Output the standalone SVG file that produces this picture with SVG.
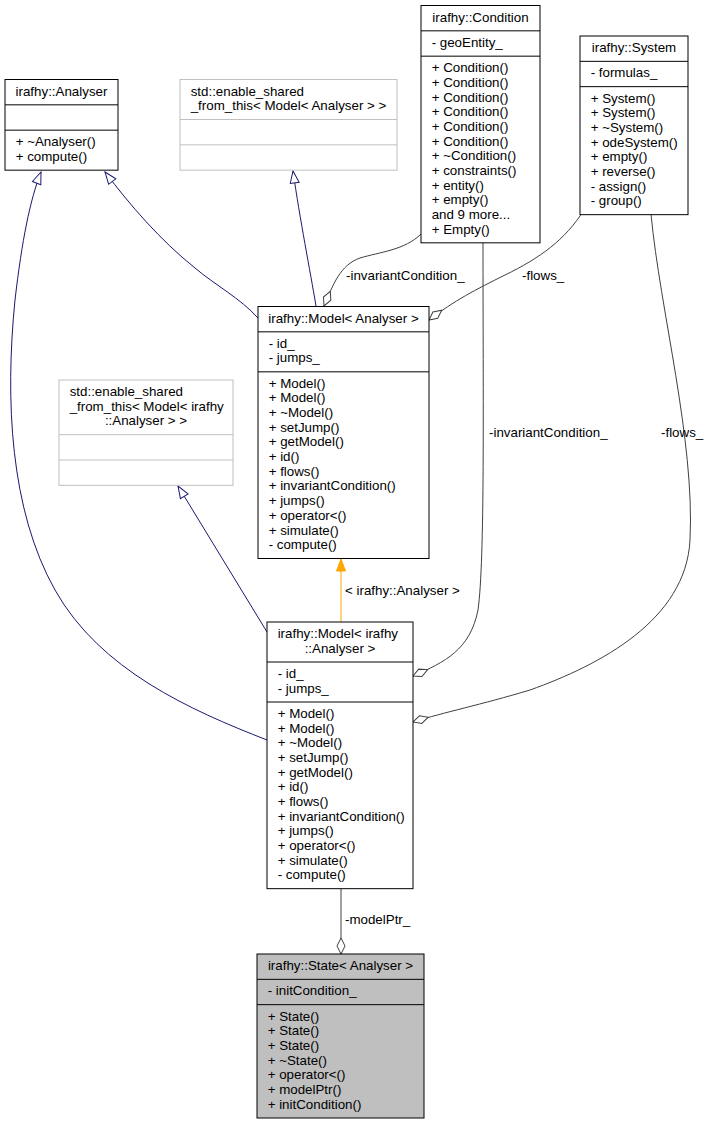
<svg xmlns="http://www.w3.org/2000/svg" width="710" height="1124" viewBox="0 0 710 1124">
<style>
  .bg{fill:#ffffff}
  .box{fill:#ffffff;stroke:#000000;stroke-width:1}
  .gbox{fill:#ffffff;stroke:#bfbfbf;stroke-width:1}
  .sbox{fill:#bfbfbf;stroke:#000000;stroke-width:1}
  .sep{stroke:#000000;stroke-width:1}
  .gsep{stroke:#bfbfbf;stroke-width:1}
  text{font-family:"Liberation Sans",Arial,Helvetica,sans-serif;font-size:13.33px;fill:#000000}
  .c{text-anchor:middle}
  .inh{fill:none;stroke:#191970;stroke-width:1;marker-end:url(#tri)}
  .agg{fill:none;stroke:#404040;stroke-width:1;marker-end:url(#dia)}
  .tpl{fill:none;stroke:#ffa500;stroke-width:1;marker-end:url(#otri)}
</style>
<defs>
  <marker id="tri" viewBox="0 0 14 11" refX="13" refY="5.5" markerWidth="14" markerHeight="11" orient="auto" markerUnits="userSpaceOnUse">
    <path d="M1,1 L13,5.5 L1,10 Z" fill="#ffffff" stroke="#191970"/>
  </marker>
  <marker id="otri" viewBox="0 0 14 11" refX="13" refY="5.5" markerWidth="14" markerHeight="11" orient="auto" markerUnits="userSpaceOnUse">
    <path d="M1,1 L13,5.5 L1,10 Z" fill="#ffa500" stroke="#ffa500"/>
  </marker>
  <marker id="dia" viewBox="0 0 18 10" refX="17" refY="5" markerWidth="18" markerHeight="10" orient="auto" markerUnits="userSpaceOnUse">
    <path d="M1,5 L9,1 L17,5 L9,9 Z" fill="#ffffff" stroke="#404040"/>
  </marker>
</defs>
<rect class="bg" x="0" y="0" width="710" height="1124"/>

<g id="connectors">
  <path class="inh" d="M258,318 C240,298 215,285 195,268 C160,240 130,205 105,172"/>
  <path class="inh" d="M267,740 C190,710 100,670 55,590 C10,510 5,400 15,300 C22,240 30,200 41,172"/>
  <path class="inh" d="M316,306 C310,270 300,220 293,171"/>
  <path class="inh" d="M267,632 L178,486"/>
  <path class="tpl" d="M341,622 L341,559"/>
  <text x="345" y="595">&lt; irafhy::Analyser &gt;</text>
  <path class="agg" d="M421,234 C405,250 380,252 360,258 C340,265 333,285 324,306"/>
  <text x="346" y="280">-invariantCondition_</text>
  <path class="agg" d="M584,210 C565,240 540,258 505,275 C475,290 455,300 429,320"/>
  <text x="522" y="280">-flows_</text>
  <path class="agg" d="M483,243 C483,400 485,560 478,610 C470,650 445,662 413,676"/>
  <text x="489" y="437">-invariantCondition_</text>
  <path class="agg" d="M651,214 C660,310 695,440 690,540 C686,620 600,665 530,690 C480,705 445,712 413,722"/>
  <text x="661" y="437">-flows_</text>
  <path class="agg" d="M341,889 L341,954"/>
  <text x="345" y="924">-modelPtr_</text>
</g>

<g id="node_analyser">
  <rect class="box" x="5" y="79.5" width="113" height="90.67"/>
  <line class="sep" x1="5" y1="104.83" x2="118" y2="104.83"/>
  <line class="sep" x1="5" y1="130.17" x2="118" y2="130.17"/>
  <text class="c" x="61.5" y="95.5">irafhy::Analyser</text>
  <text x="15.67" y="146.17">+ ~Analyser()<tspan x="15.67" dy="14.667">+ compute()</tspan></text>
</g>

<g id="node_enable_shared_model_analyser">
  <rect class="gbox" x="180" y="79.5" width="217" height="90.67"/>
  <line class="gsep" x1="180" y1="119.5" x2="397" y2="119.5"/>
  <line class="gsep" x1="180" y1="144.83" x2="397" y2="144.83"/>
  <text x="190.67" y="95.5">std::enable_shared</text>
  <text class="c" x="288.5" y="110.17">_from_this&lt; Model&lt; Analyser &gt; &gt;</text>
</g>

<g id="node_condition">
  <rect class="box" x="421" y="5.5" width="119" height="237.33"/>
  <line class="sep" x1="421" y1="30.83" x2="540" y2="30.83"/>
  <line class="sep" x1="421" y1="56.17" x2="540" y2="56.17"/>
  <text class="c" x="480.5" y="21.5">irafhy::Condition</text>
  <text x="431.67" y="46.83">- geoEntity_</text>
  <text x="431.67" y="72.17">+ Condition()<tspan x="431.67" dy="14.667">+ Condition()</tspan><tspan x="431.67" dy="14.667">+ Condition()</tspan><tspan x="431.67" dy="14.667">+ Condition()</tspan><tspan x="431.67" dy="14.667">+ Condition()</tspan><tspan x="431.67" dy="14.667">+ Condition()</tspan><tspan x="431.67" dy="14.667">+ ~Condition()</tspan><tspan x="431.67" dy="14.667">+ constraints()</tspan><tspan x="431.67" dy="14.667">+ entity()</tspan><tspan x="431.67" dy="14.667">+ empty()</tspan><tspan x="431.67" dy="14.667">and 9 more...</tspan><tspan x="431.67" dy="14.667">+ Empty()</tspan></text>
</g>

<g id="node_system">
  <rect class="box" x="580" y="36" width="108" height="178.67"/>
  <line class="sep" x1="580" y1="61.33" x2="688" y2="61.33"/>
  <line class="sep" x1="580" y1="86.67" x2="688" y2="86.67"/>
  <text class="c" x="634" y="52">irafhy::System</text>
  <text x="590.67" y="77.33">- formulas_</text>
  <text x="590.67" y="102.67">+ System()<tspan x="590.67" dy="14.667">+ System()</tspan><tspan x="590.67" dy="14.667">+ ~System()</tspan><tspan x="590.67" dy="14.667">+ odeSystem()</tspan><tspan x="590.67" dy="14.667">+ empty()</tspan><tspan x="590.67" dy="14.667">+ reverse()</tspan><tspan x="590.67" dy="14.667">- assign()</tspan><tspan x="590.67" dy="14.667">- group()</tspan></text>
</g>

<g id="node_model_analyser">
  <rect class="box" x="258" y="306.5" width="171" height="252"/>
  <line class="sep" x1="258" y1="331.83" x2="429" y2="331.83"/>
  <line class="sep" x1="258" y1="371.83" x2="429" y2="371.83"/>
  <text class="c" x="343.5" y="322.5">irafhy::Model&lt; Analyser &gt;</text>
  <text x="268.67" y="347.83">- id_<tspan x="268.67" dy="14.667">- jumps_</tspan></text>
  <text x="268.67" y="387.83">+ Model()<tspan x="268.67" dy="14.667">+ Model()</tspan><tspan x="268.67" dy="14.667">+ ~Model()</tspan><tspan x="268.67" dy="14.667">+ setJump()</tspan><tspan x="268.67" dy="14.667">+ getModel()</tspan><tspan x="268.67" dy="14.667">+ id()</tspan><tspan x="268.67" dy="14.667">+ flows()</tspan><tspan x="268.67" dy="14.667">+ invariantCondition()</tspan><tspan x="268.67" dy="14.667">+ jumps()</tspan><tspan x="268.67" dy="14.667">+ operator&lt;()</tspan><tspan x="268.67" dy="14.667">+ simulate()</tspan><tspan x="268.67" dy="14.667">- compute()</tspan></text>
</g>

<g id="node_enable_shared_model_irafhy_analyser">
  <rect class="gbox" x="59" y="380" width="174" height="105.33"/>
  <line class="gsep" x1="59" y1="434.67" x2="233" y2="434.67"/>
  <line class="gsep" x1="59" y1="460" x2="233" y2="460"/>
  <text x="69.67" y="396">std::enable_shared<tspan x="69.67" dy="14.667">_from_this&lt; Model&lt; irafhy</tspan></text>
  <text class="c" x="146" y="425.33">::Analyser &gt; &gt;</text>
</g>

<g id="node_model_irafhy_analyser">
  <rect class="box" x="267" y="622" width="146" height="266.67"/>
  <line class="sep" x1="267" y1="662" x2="413" y2="662"/>
  <line class="sep" x1="267" y1="702" x2="413" y2="702"/>
  <text x="277.67" y="638">irafhy::Model&lt; irafhy</text>
  <text class="c" x="340" y="652.67">::Analyser &gt;</text>
  <text x="277.67" y="678">- id_<tspan x="277.67" dy="14.667">- jumps_</tspan></text>
  <text x="277.67" y="718">+ Model()<tspan x="277.67" dy="14.667">+ Model()</tspan><tspan x="277.67" dy="14.667">+ ~Model()</tspan><tspan x="277.67" dy="14.667">+ setJump()</tspan><tspan x="277.67" dy="14.667">+ getModel()</tspan><tspan x="277.67" dy="14.667">+ id()</tspan><tspan x="277.67" dy="14.667">+ flows()</tspan><tspan x="277.67" dy="14.667">+ invariantCondition()</tspan><tspan x="277.67" dy="14.667">+ jumps()</tspan><tspan x="277.67" dy="14.667">+ operator&lt;()</tspan><tspan x="277.67" dy="14.667">+ simulate()</tspan><tspan x="277.67" dy="14.667">- compute()</tspan></text>
</g>

<g id="node_state">
  <rect class="sbox" x="257" y="954" width="167" height="164"/>
  <line class="sep" x1="257" y1="979.33" x2="424" y2="979.33"/>
  <line class="sep" x1="257" y1="1004.67" x2="424" y2="1004.67"/>
  <text class="c" x="340.5" y="970">irafhy::State&lt; Analyser &gt;</text>
  <text x="267.67" y="995.33">- initCondition_</text>
  <text x="267.67" y="1020.67">+ State()<tspan x="267.67" dy="14.667">+ State()</tspan><tspan x="267.67" dy="14.667">+ State()</tspan><tspan x="267.67" dy="14.667">+ ~State()</tspan><tspan x="267.67" dy="14.667">+ operator&lt;()</tspan><tspan x="267.67" dy="14.667">+ modelPtr()</tspan><tspan x="267.67" dy="14.667">+ initCondition()</tspan></text>
</g>
</svg>
